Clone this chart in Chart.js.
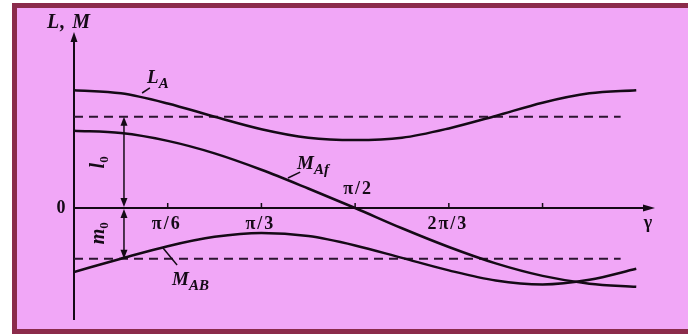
<!DOCTYPE html>
<html>
<head>
<meta charset="utf-8">
<title>L, M</title>
<script src="https://cdn.jsdelivr.net/npm/chart.js@4.4.1/dist/chart.umd.min.js"></script>
<style>
  html, body { margin: 0; padding: 0; background: #fff; }
  #frame { position: absolute; left: 12px; top: 3px; width: 690px; height: 331px; box-sizing: border-box; border: 5px solid #8b2b4b; background: #f1a7f7; }
  #chart { position: absolute; left: 0; top: 0; }
</style>
</head>
<body>
<div id="frame"></div>
<canvas id="chart" width="688" height="334"></canvas>
<script>
// angulo gamma en grados (0 .. pi)
const gamma = [0, 15, 30, 45, 60, 75, 90, 105, 120, 135, 150, 165, 180];
// curvas
const lA  = [1.51, 1.47, 1.34, 1.17, 1.01, 0.90, 0.87, 0.90, 1.02, 1.18, 1.35, 1.47, 1.51];
const mAf = [0.99, 0.96, 0.86, 0.70, 0.49, 0.25, 0.00, -0.26, -0.50, -0.71, -0.87, -0.97, -1.01];
const mAB = [-0.82, -0.65, -0.49, -0.37, -0.32, -0.36, -0.48, -0.64, -0.80, -0.93, -0.98, -0.92, -0.78];
// valores medios (lineas discontinuas)
const l0 = 1.17;
const m0 = -0.65;
const dashGamma = [0, 175];
// marcas del eje gamma
const tickAngles = [30, 60, 90, 120, 150];
const tickLabels = ['π/6', 'π/3', 'π/2', '2π/3', ''];

const INK = '#150a16';
const SERIF = '"Liberation Serif", "DejaVu Serif", serif';

function pts(ys) { return gamma.map((g, i) => ({ x: g, y: ys[i] })); }
function flat(v) { return dashGamma.map(g => ({ x: g, y: v })); }

function line(ctx, x1, y1, x2, y2) {
  ctx.beginPath(); ctx.moveTo(x1, y1); ctx.lineTo(x2, y2); ctx.stroke();
}
// punta de flecha con vertice en (tx, ty) y direccion (dx, dy)
function head(ctx, tx, ty, dx, dy, len, w) {
  ctx.beginPath();
  ctx.moveTo(tx, ty);
  ctx.lineTo(tx - dx * len - dy * w, ty - dy * len + dx * w);
  ctx.lineTo(tx - dx * len + dy * w, ty - dy * len - dx * w);
  ctx.closePath(); ctx.fill();
}
// texto con subindice
function sub(ctx, main, small, x, y, size) {
  ctx.font = 'italic bold ' + size + 'px ' + SERIF;
  ctx.fillText(main, x, y);
  const w = ctx.measureText(main).width;
  ctx.font = 'italic bold ' + Math.round(size * 0.78) + 'px ' + SERIF;
  ctx.fillText(small, x + w, y + 5);
}

const figure = {
  id: 'figure',
  beforeDatasetsDraw(chart) {
    const ctx = chart.ctx, sx = chart.scales.x, sy = chart.scales.y;
    const x0 = sx.getPixelForValue(0), y0 = sy.getPixelForValue(0);
    ctx.save();
    ctx.strokeStyle = INK; ctx.fillStyle = INK; ctx.lineWidth = 2;
    // eje L, M
    line(ctx, x0, sy.bottom, x0, sy.top + 6);
    head(ctx, x0, sy.top, 0, -1, 10, 3.5);
    // eje gamma
    line(ctx, x0, y0, sx.right - 6, y0);
    head(ctx, sx.right, y0, 1, 0, 12, 3.5);
    ctx.lineWidth = 1.5;
    tickAngles.forEach(a => {
      const px = sx.getPixelForValue(a);
      line(ctx, px, y0, px, y0 - 5);
    });
    ctx.restore();
  },
  afterDatasetsDraw(chart) {
    const ctx = chart.ctx, sx = chart.scales.x, sy = chart.scales.y;
    const X = v => sx.getPixelForValue(v), Y = v => sy.getPixelForValue(v);
    const x0 = X(0), y0 = Y(0);
    ctx.save();
    ctx.strokeStyle = INK; ctx.fillStyle = INK; ctx.lineWidth = 1.5;

    // flechas l0 y m0
    const ax = X(16);
    line(ctx, ax, Y(l0) + 6, ax, y0 - 6);
    head(ctx, ax, Y(l0), 0, -1, 9, 3.5);
    head(ctx, ax, y0 - 1, 0, 1, 9, 3.5);
    line(ctx, ax, y0 + 6, ax, Y(m0) - 6);
    head(ctx, ax, y0 + 1, 0, -1, 9, 3.5);
    head(ctx, ax, Y(m0), 0, 1, 9, 3.5);

    // lineas de referencia de las etiquetas
    line(ctx, X(21.8), Y(1.474), X(24.3), Y(1.54));
    line(ctx, X(68.5), Y(0.385), X(72.4), Y(0.46));
    line(ctx, X(28.5), Y(-0.513), X(33), Y(-0.73));

    // etiquetas de curvas
    ctx.textAlign = 'left'; ctx.textBaseline = 'alphabetic';
    sub(ctx, 'L', 'A', X(23.4), Y(1.60), 19);
    sub(ctx, 'M', 'Af', X(71.4), Y(0.50), 19);
    sub(ctx, 'M', 'AB', X(31.4), Y(-0.99), 19);

    // l0 y m0 girados
    [['l', l0 / 2], ['m', m0 / 2]].forEach(([t, v]) => {
      ctx.save();
      ctx.translate(X(7.6), Y(v));
      ctx.rotate(-Math.PI / 2);
      ctx.textAlign = 'left';
      ctx.font = 'italic bold 20px ' + SERIF;
      const tw = ctx.measureText(t).width;
      ctx.font = 'bold 13px ' + SERIF;
      const sw = ctx.measureText('0').width;
      const left = -(tw + sw) / 2;
      ctx.font = 'italic bold 20px ' + SERIF;
      ctx.fillText(t, left, 6);
      ctx.font = 'bold 13px ' + SERIF;
      ctx.fillText('0', left + tw, 10);
      ctx.restore();
    });

    // titulo del eje y origen
    ctx.textAlign = 'center'; ctx.textBaseline = 'middle';
    ctx.font = 'italic bold 20px ' + SERIF;
    ctx.letterSpacing = '1px';
    ctx.fillText('L, M', x0 - 5, sy.top - 9);
    ctx.letterSpacing = '0px';
    ctx.font = 'bold 18px ' + SERIF;
    ctx.fillText('0', x0 - 13, y0);
    ctx.font = 'bold 18px ' + SERIF;
    ctx.fillText('γ', sx.right - 7, y0 + 15);

    // etiquetas de las marcas
    ctx.font = 'bold 18px ' + SERIF;
    ctx.letterSpacing = '2px';
    tickAngles.forEach((a, i) => {
      const t = tickLabels[i];
      if (!t) return;
      const up = t === 'π/2';
      ctx.fillText(t, X(a) + (up ? 3 : -1), up ? y0 - 19 : y0 + 16);
    });
    ctx.restore();
  }
};

const curve = { borderColor: INK, borderWidth: 2.5, pointRadius: 0, fill: false, cubicInterpolationMode: 'monotone' };
const dashed = { borderColor: '#2c1530', borderWidth: 2, pointRadius: 0, fill: false, borderDash: [9, 6] };

new Chart(document.getElementById('chart'), {
  type: 'line',
  data: {
    datasets: [
      { label: 'L_A', data: pts(lA), ...curve },
      { label: 'M_Af', data: pts(mAf), ...curve },
      { label: 'M_AB', data: pts(mAB), ...curve },
      { label: 'l0', data: flat(l0), ...dashed },
      { label: 'm0', data: flat(m0), ...dashed }
    ]
  },
  options: {
    responsive: false,
    animation: false,
    devicePixelRatio: 1,
    layout: { padding: { left: 74, right: 33, top: 32, bottom: 14 } },
    plugins: { legend: { display: false }, tooltip: { enabled: false }, title: { display: false } },
    scales: {
      x: { type: 'linear', display: false, min: 0, max: 186 },
      y: { type: 'linear', display: false, min: -1.436, max: 2.256 }
    }
  },
  plugins: [figure]
});
</script>
</body>
</html>
